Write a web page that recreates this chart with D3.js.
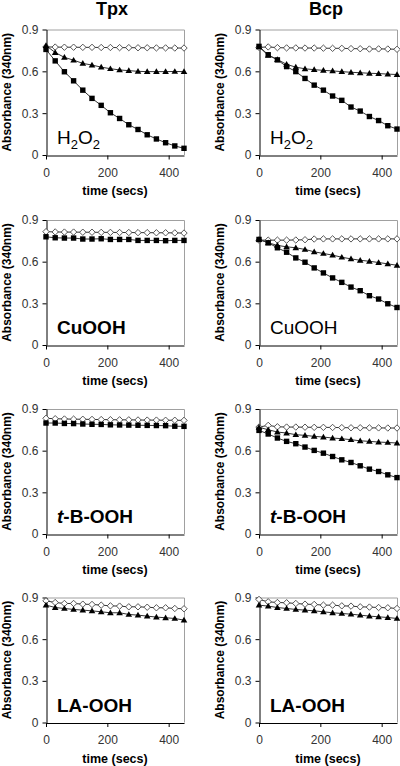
<!DOCTYPE html>
<html><head><meta charset="utf-8">
<script src="https://cdn.jsdelivr.net/npm/d3@7"></script>
<style>
html,body{margin:0;padding:0;background:#fff;}
svg{display:block;font-family:"Liberation Sans",Arial,sans-serif;}
</style></head>
<body><svg id="c" width="400" height="766"></svg>
<script>
// ---------------- data ----------------
const times = [0,30,60,90,120,150,180,210,240,270,300,330,360,390,420,450];
const enzymes = ["Tpx","Bcp"];
const peroxides = ["H2O2","CuOOH","t-B-OOH","LA-OOH"];
const yTicks = [0,0.3,0.6,0.9];
const xTicks = [0,200,400];
const xLabel = "time (secs)";
const yLabel = "Absorbance (340nm)";

// open diamonds / filled triangles / filled squares
const tpxH2O2Diamond  = [0.775,0.774,0.773,0.773,0.772,0.772,0.771,0.771,0.770,0.770,0.769,0.769,0.768,0.768,0.767,0.767];
const tpxH2O2Triangle = [0.785,0.735,0.700,0.680,0.657,0.645,0.630,0.619,0.610,0.605,0.600,0.598,0.598,0.598,0.599,0.598];
const tpxH2O2Square   = [0.757,0.675,0.597,0.532,0.465,0.406,0.356,0.303,0.262,0.217,0.183,0.145,0.115,0.088,0.065,0.048];

const bcpH2O2Diamond  = [0.772,0.775,0.770,0.768,0.768,0.767,0.767,0.766,0.765,0.765,0.763,0.762,0.760,0.761,0.760,0.758];
const bcpH2O2Triangle = [0.775,0.715,0.685,0.650,0.630,0.618,0.612,0.607,0.603,0.598,0.593,0.590,0.586,0.584,0.580,0.577];
const bcpH2O2Square   = [0.779,0.719,0.682,0.634,0.598,0.549,0.501,0.465,0.423,0.392,0.344,0.315,0.276,0.247,0.210,0.186];

const tpxCuOOHDiamond = [0.816,0.814,0.813,0.813,0.812,0.812,0.811,0.811,0.810,0.810,0.809,0.809,0.808,0.808,0.807,0.806];
const tpxCuOOHSquare  = [0.779,0.772,0.770,0.770,0.763,0.763,0.765,0.760,0.760,0.760,0.753,0.753,0.753,0.751,0.753,0.753];

const bcpCuOOHDiamond  = [0.755,0.755,0.755,0.755,0.756,0.758,0.763,0.764,0.764,0.764,0.764,0.764,0.764,0.764,0.764,0.764];
const bcpCuOOHTriangle = [0.760,0.736,0.717,0.707,0.700,0.688,0.671,0.659,0.647,0.632,0.620,0.610,0.603,0.594,0.584,0.574];
const bcpCuOOHSquare   = [0.760,0.736,0.700,0.668,0.627,0.596,0.555,0.519,0.483,0.451,0.417,0.391,0.355,0.331,0.297,0.270];

const tpxTBDiamond = [0.833,0.830,0.828,0.827,0.826,0.825,0.824,0.823,0.822,0.822,0.821,0.820,0.820,0.819,0.819,0.818];
const tpxTBSquare  = [0.799,0.799,0.796,0.795,0.792,0.790,0.789,0.786,0.785,0.784,0.783,0.782,0.781,0.780,0.776,0.775];

const bcpTBDiamond  = [0.770,0.782,0.772,0.770,0.770,0.769,0.768,0.768,0.767,0.766,0.765,0.765,0.764,0.764,0.763,0.763];
const bcpTBTriangle = [0.768,0.751,0.734,0.727,0.715,0.710,0.703,0.698,0.691,0.686,0.679,0.671,0.667,0.662,0.659,0.655];
const bcpTBSquare   = [0.746,0.720,0.691,0.667,0.650,0.626,0.602,0.582,0.558,0.534,0.515,0.491,0.467,0.450,0.426,0.406];

const tpxLADiamond  = [0.876,0.864,0.857,0.857,0.852,0.850,0.845,0.840,0.838,0.833,0.833,0.830,0.826,0.826,0.821,0.819];
const tpxLATriangle = [0.845,0.828,0.821,0.814,0.809,0.804,0.797,0.790,0.790,0.778,0.773,0.766,0.759,0.754,0.749,0.737];

const bcpLADiamond  = [0.886,0.869,0.864,0.862,0.857,0.852,0.850,0.845,0.845,0.840,0.838,0.833,0.831,0.828,0.826,0.821];
const bcpLATriangle = [0.845,0.838,0.828,0.821,0.814,0.809,0.804,0.797,0.790,0.785,0.780,0.773,0.766,0.761,0.756,0.749];

// panel table built from the arrays
const panels = [
  {col:0,row:0,label:"H2O2",   series:[["diamond",tpxH2O2Diamond],["triangle",tpxH2O2Triangle],["square",tpxH2O2Square]]},
  {col:1,row:0,label:"H2O2",   series:[["diamond",bcpH2O2Diamond],["triangle",bcpH2O2Triangle],["square",bcpH2O2Square]]},
  {col:0,row:1,label:"CuOOH",  series:[["diamond",tpxCuOOHDiamond],["square",tpxCuOOHSquare]]},
  {col:1,row:1,label:"CuOOH",  series:[["diamond",bcpCuOOHDiamond],["triangle",bcpCuOOHTriangle],["square",bcpCuOOHSquare]]},
  {col:0,row:2,label:"t-B-OOH",series:[["diamond",tpxTBDiamond],["square",tpxTBSquare]]},
  {col:1,row:2,label:"t-B-OOH",series:[["diamond",bcpTBDiamond],["triangle",bcpTBTriangle],["square",bcpTBSquare]]},
  {col:0,row:3,label:"LA-OOH", series:[["diamond",tpxLADiamond],["triangle",tpxLATriangle]]},
  {col:1,row:3,label:"LA-OOH", series:[["diamond",bcpLADiamond],["triangle",bcpLATriangle]]}
];

// ---------------- layout ----------------
const colX = [[46,184],[259,397]];
const rowY = [[29.5,155],[220,345],[409,534],[597.5,722.5]];
const titleX = [112,326];

const svg = d3.select("#c");
svg.append("rect").attr("width",400).attr("height",766).attr("fill","#fff");

enzymes.forEach((e,i)=>{
  svg.append("text").attr("x",titleX[i]).attr("y",15).attr("text-anchor","middle")
    .attr("font-size",18).attr("font-weight","bold").attr("fill","#000").text(e);
});

const shapes = {
  square: "M-2.7,-2.7H2.7V2.7H-2.7Z",
  triangle: "M0,-3.3L3.3,2.4H-3.3Z",
  diamond: "M0,-3.2L3.2,0L0,3.2L-3.2,0Z"
};

panels.forEach(p=>{
  const [x0,x1] = colX[p.col];
  const [top,bottom] = rowY[p.row];
  const x = d3.scaleLinear().domain([0,450]).range([x0,x1]);
  const y = d3.scaleLinear().domain([0,0.9]).range([bottom,top]);
  const g = svg.append("g");

  // frame (top + right) in grey
  g.append("path").attr("d",`M${x0},${top+0.5}H${x1+0.5}V${bottom}`)
    .attr("fill","none").attr("stroke","#a0a0a0").attr("stroke-width",1);

  // axes
  const ya = g.append("g").attr("transform",`translate(${x0+0.5},0)`)
    .call(d3.axisLeft(y).tickValues(yTicks).tickFormat(d=>d===0?"0":d3.format(".1f")(d)).tickSize(4).tickSizeOuter(0).tickPadding(4));
  const xa = g.append("g").attr("transform",`translate(0,${bottom+0.5})`)
    .call(d3.axisBottom(x).tickValues(xTicks).tickSize(4).tickSizeOuter(0).tickPadding(8.5));
  [ya,xa].forEach(a=>{
    a.select(".domain").attr("stroke","#000");
    a.selectAll(".tick line").attr("stroke","#000");
    a.selectAll(".tick text").attr("font-size",12).attr("fill","#333")
      .attr("font-family","'Liberation Sans',Arial,sans-serif");
  });

  // axis titles
  g.append("text").attr("x",(x0+x1)/2).attr("y",bottom+40).attr("text-anchor","middle")
    .attr("font-size",12.5).attr("font-weight","bold").attr("fill","#000").text(xLabel);
  const yc = (top+bottom)/2;
  const lx = p.col===0 ? 11 : 224;
  g.append("text").attr("transform",`translate(${lx},${yc}) rotate(-90)`).attr("text-anchor","middle")
    .attr("font-size",12).attr("font-weight","bold").attr("fill","#000").text(yLabel);

  // series
  const line = d3.line().x((d,i)=>x(times[i])).y(d=>y(d));
  p.series.forEach(([shape,vals])=>{
    g.append("path").datum(vals).attr("d",line).attr("fill","none")
      .attr("stroke","#333").attr("stroke-width",1);
  });
  p.series.forEach(([shape,vals])=>{
    g.selectAll(null).data(vals).enter().append("path")
      .attr("d",shapes[shape])
      .attr("transform",(d,i)=>`translate(${x(times[i])},${y(d)})`)
      .attr("fill",shape==="diamond"?"#fff":"#000")
      .attr("stroke",shape==="diamond"?"#444":"none")
      .attr("stroke-width",0.9);
  });

  // panel label
  const t = g.append("text").attr("x",x0+11).attr("y",bottom-11)
    .attr("font-size",19).attr("fill","#000")
    .attr("font-weight",(p.label==="H2O2"||(p.label==="CuOOH"&&p.col===1))?"normal":"bold");
  if(p.label==="H2O2"){
    t.append("tspan").text("H");
    t.append("tspan").attr("font-size",13).attr("dy",5).text("2");
    t.append("tspan").attr("dy",-5).text("O");
    t.append("tspan").attr("font-size",13).attr("dy",5).text("2");
  } else if(p.label==="t-B-OOH"){
    t.append("tspan").attr("font-style","italic").text("t");
    t.append("tspan").text("-B-OOH");
  } else {
    t.text(p.label);
  }
});
</script></body></html>
